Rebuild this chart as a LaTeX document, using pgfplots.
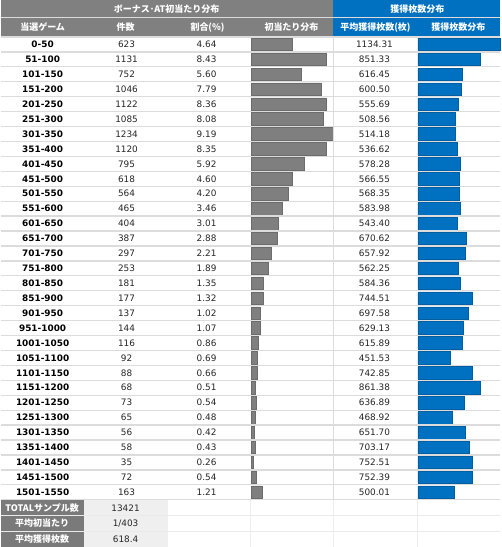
\documentclass[border=0pt]{standalone}
\usepackage{pgfplots}
\pgfplotsset{compat=1.18}
\usepackage{pgfplotstable}
\usepackage{fontspec}
\setmainfont{DejaVu Sans}
\newfontfamily\jp{Noto Sans CJK JP}
\definecolor{hdr}{HTML}{808080}
\definecolor{barg}{HTML}{7F7F7F}
\definecolor{bluec}{HTML}{0070C0}
\definecolor{gridc}{HTML}{DCDCDC}
\definecolor{sumbg}{HTML}{EFEFEF}
\definecolor{sumlab}{HTML}{7A7A7A}

\pgfplotstableread[col sep=comma]{
range,count,pct,avg
0-50,623,4.64,1134.31
51-100,1131,8.43,851.33
101-150,752,5.60,616.45
151-200,1046,7.79,600.50
201-250,1122,8.36,555.69
251-300,1085,8.08,508.56
301-350,1234,9.19,514.18
351-400,1120,8.35,536.62
401-450,795,5.92,578.28
451-500,618,4.60,566.55
501-550,564,4.20,568.35
551-600,465,3.46,583.98
601-650,404,3.01,543.40
651-700,387,2.88,670.62
701-750,297,2.21,657.92
751-800,253,1.89,562.25
801-850,181,1.35,584.36
851-900,177,1.32,744.51
901-950,137,1.02,697.58
951-1000,144,1.07,629.13
1001-1050,116,0.86,615.89
1051-1100,92,0.69,451.53
1101-1150,88,0.66,742.85
1151-1200,68,0.51,861.38
1201-1250,73,0.54,636.89
1251-1300,65,0.48,468.92
1301-1350,56,0.42,651.70
1351-1400,58,0.43,703.17
1401-1450,35,0.26,752.51
1451-1500,72,0.54,752.39
1501-1550,163,1.21,500.01
}\datatable

\pgfplotstableread[col sep=comma]{
label,value
TOTALサンプル数,13421
平均初当たり,1/403
平均獲得枚数,618.4
}\sumtable

\newcommand{\txt}{\fontsize{8.9}{10}\selectfont}
\newcommand{\hdrfont}{\jp\bfseries\fontsize{9}{10}\selectfont}

\begin{document}
\begin{tikzpicture}[x=1pt,y=1pt]
\fill[white] (0,0) rectangle (500,547);

% gray bars
\begin{axis}[at={(250.5pt,510pt)}, anchor=north west, scale only axis,
  width=82.5pt, height=463pt, xmin=0, xmax=9.19, ymin=-30.5, ymax=0.5,
  hide axis, xbar, bar width=12.6pt, clip=false]
\addplot[fill=barg, draw=barg!85!black, line width=0.6pt]
  table[x=pct, y expr=-\coordindex]{\datatable};
\end{axis}

% blue bars
\begin{axis}[at={(417.5pt,510pt)}, anchor=north west, scale only axis,
  width=82.5pt, height=463pt, xmin=0, xmax=1134.31, ymin=-30.5, ymax=0.5,
  hide axis, xbar, bar width=12.6pt, clip=false]
\addplot[fill=bluec, draw=bluec!85!black, line width=0.6pt]
  table[x=avg, y expr=-\coordindex]{\datatable};
\end{axis}

% table frame and text
\begin{axis}[at={(0pt,0pt)}, anchor=south west, scale only axis,
  width=500pt, height=547pt, xmin=0, xmax=500, ymin=-547, ymax=0,
  hide axis, clip=false,
  nodes near coords align={anchor=center}]
% header backgrounds
\fill[hdr] (axis cs:0,0) rectangle (axis cs:333,-36.5);
\fill[bluec] (axis cs:333,0) rectangle (axis cs:500,-36.5);
\draw[gridc, line width=0.8pt] (axis cs:0,-17.5) -- (axis cs:500,-17.5);
% summary backgrounds
\fill[sumlab] (axis cs:0,-500.5) rectangle (axis cs:83,-547);
\fill[sumbg] (axis cs:83,-500.5) rectangle (axis cs:167,-547);
\draw[gridc!60!white, line width=0.8pt] (axis cs:0,-516) -- (axis cs:500,-516);
\draw[gridc!60!white, line width=0.8pt] (axis cs:0,-531.5) -- (axis cs:500,-531.5);
\draw[gridc!50!white, line width=0.6pt] (axis cs:250,-500.5) -- (axis cs:250,-547);
\draw[gridc!50!white, line width=0.6pt] (axis cs:333,-500.5) -- (axis cs:333,-547);
\draw[gridc!50!white, line width=0.6pt] (axis cs:417,-500.5) -- (axis cs:417,-547);
% row separators
\pgfplotsinvokeforeach{0,...,31}{
  \draw[gridc, line width=1.3pt] (axis cs:0,{-37-14.935*#1}) -- (axis cs:500,{-37-14.935*#1});
}
\draw[gridc, line width=0.7pt] (axis cs:333,-37) -- (axis cs:333,-500);

% header texts
\node[text=white, font=\hdrfont] at (axis cs:166,-9) {ボーナス･AT初当たり分布};
\node[text=white, font=\hdrfont] at (axis cs:417,-9) {獲得枚数分布};
\node[text=white, font=\hdrfont] at (axis cs:42,-27.5) {当選ゲーム};
\node[text=white, font=\hdrfont] at (axis cs:125,-27.5) {件数};
\node[text=white, font=\hdrfont] at (axis cs:207,-27.5) {割合(\%)};
\node[text=white, font=\hdrfont] at (axis cs:291,-27.5) {初当たり分布};
\node[text=white, font=\hdrfont] at (axis cs:375,-27.5) {平均獲得枚数(枚)};
\node[text=white, font=\hdrfont] at (axis cs:458,-27.5) {獲得枚数分布};

% data texts
\addplot[draw=none, mark=none, nodes near coords, point meta=explicit symbolic,
  nodes near coords style={font=\bfseries\txt, text=black, anchor=center}]
  table[x expr=42, y expr={-37-14.935*(\coordindex+0.5)}, meta=range]{\datatable};
\addplot[draw=none, mark=none, nodes near coords, point meta=explicit symbolic,
  nodes near coords style={font=\txt, text=black!85, anchor=center}]
  table[x expr=126, y expr={-37-14.935*(\coordindex+0.5)}, meta=count]{\datatable};
\addplot[draw=none, mark=none, nodes near coords, point meta=explicit symbolic,
  nodes near coords style={font=\txt, text=black!85, anchor=center}]
  table[x expr=206, y expr={-37-14.935*(\coordindex+0.5)}, meta=pct]{\datatable};
\addplot[draw=none, mark=none, nodes near coords, point meta=explicit symbolic,
  nodes near coords style={font=\txt, text=black!85, anchor=center}]
  table[x expr=374, y expr={-37-14.935*(\coordindex+0.5)}, meta=avg]{\datatable};

% summary texts
\addplot[draw=none, mark=none, nodes near coords, point meta=explicit symbolic,
  nodes near coords style={font=\hdrfont, text=white, anchor=center}]
  table[x expr=41.5, y expr={-508.3-15.5*\coordindex}, meta=label]{\sumtable};
\addplot[draw=none, mark=none, nodes near coords, point meta=explicit symbolic,
  nodes near coords style={font=\txt, text=black!85, anchor=center}]
  table[x expr=125, y expr={-508.3-15.5*\coordindex}, meta=value]{\sumtable};
\end{axis}
\end{tikzpicture}
\end{document}
